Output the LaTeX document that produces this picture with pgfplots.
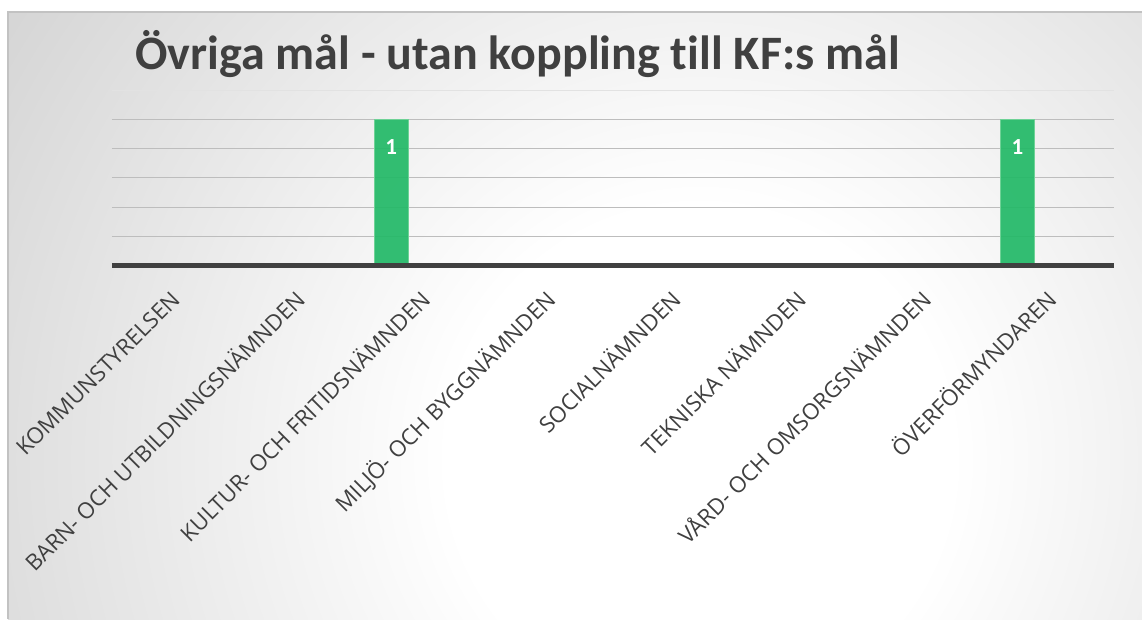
\documentclass[border=0pt]{standalone}
\usepackage{fontspec}
\setmainfont[Ligatures=NoCommon]{Carlito}
\newfontfamily\labelfont{Open Sans}
\usepackage{pgfplots}
\pgfplotsset{compat=1.18}
\definecolor{txt}{HTML}{404040}
\definecolor{bargreen}{RGB}{34,185,103}
\definecolor{baredge}{RGB}{110,210,150}
\definecolor{gridc}{HTML}{BDBDBD}
\definecolor{gridl}{HTML}{E2E2E2}
\definecolor{bgedge}{RGB}{192,192,192}
\definecolor{framec}{HTML}{C2C2C2}
\pgfdeclareradialshading{bgshade}{\pgfpoint{0bp}{0bp}}{color(0bp)=(white); color(7bp)=(white); color(31bp)=(bgedge); color(50bp)=(bgedge)}
\begin{document}
\begin{tikzpicture}[x=1pt,y=1pt]
\useasboundingbox (0,0) rectangle (1142,619);
\fill[white] (0,0) rectangle (1142,619);
\begin{scope}
\clip (8,0) rectangle (1142,607);
\shade[shading=bgshade] (700,160) circle (900);
\end{scope}
\draw[framec, line width=1.5pt] (8,0) -- (8,607) -- (1142,607);
\node[anchor=base west, text=txt, font=\bfseries\fontsize{48}{56}\selectfont, inner sep=0pt] at (135,549) {Övriga mål - utan koppling till KF:s mål};
\begin{axis}[
  at={(112pt,353.5pt)}, anchor=south west,
  scale only axis, width=1002pt, height=175.5pt,
  xmin=-0.5, xmax=7.5, ymin=0, ymax=1.2,
  axis line style={draw=none},
  major tick length=0pt,
  xtick={0,...,7},
  xticklabels={KOMMUNSTYRELSEN, BARN- OCH UTBILDNINGSNÄMNDEN, KULTUR- OCH FRITIDSNÄMNDEN, MILJÖ- OCH BYGGNÄMNDEN, SOCIALNÄMNDEN, TEKNISKA NÄMNDEN, VÅRD- OCH OMSORGSNÄMNDEN, ÖVERFÖRMYNDAREN},
  xticklabel style={rotate=45, anchor=north east, font=\labelfont\fontsize{22.3}{26}\selectfont, text=txt, inner sep=0pt, text height=15pt, text depth=0pt, xshift=-20.4pt, yshift=-14.8pt},
  ytick={0.2,0.4,0.6,0.8,1.0},
  yticklabels={},
  ymajorgrids, grid style={gridc, line width=1pt},
  extra y ticks={1.2}, extra y tick labels={},
  extra y tick style={grid style={gridl, line width=1pt}},
  ybar, bar width=34pt, bar shift=-34pt,
  clip=false,
]
\addplot[fill=bargreen, fill opacity=0.92, draw=baredge, line width=0.8pt,
  visualization depends on={value \thisrow{y} \as \rawy},
  nodes near coords={\ifdim\rawy pt>0pt\rawy\fi},
  every node near coord/.append style={anchor=center, yshift=-27.5pt, text=white, text opacity=1, font=\bfseries\fontsize{23}{27}\selectfont}]
  table[x=x, y=y] {
x y
0 0
1 0
2 1
3 0
4 0
5 0
6 0
7 1
};
\draw[txt, line width=4.4pt] (axis cs:-0.5,0) -- (axis cs:7.5,0);
\end{axis}
\end{tikzpicture}
\end{document}
